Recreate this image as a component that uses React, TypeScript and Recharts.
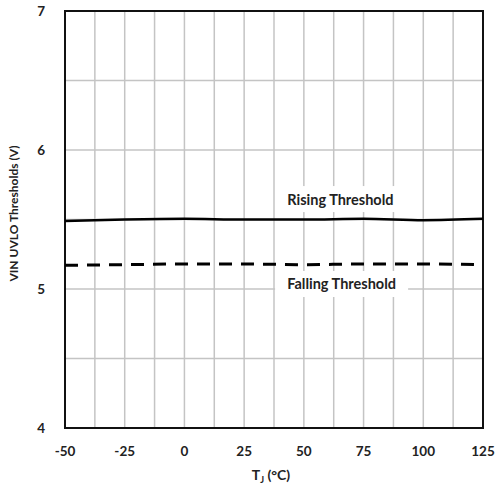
import React from "react";
import { LineChart, Line, XAxis, YAxis, CartesianGrid, ReferenceArea, ReferenceDot, Label } from "recharts";

const temps = [-50, -25, 0, 25, 50, 75, 100, 125];
const rising = [5.49, 5.5, 5.505, 5.5, 5.5, 5.505, 5.495, 5.505];
const falling = [5.17, 5.175, 5.18, 5.18, 5.175, 5.18, 5.18, 5.175];
const xTicks = [-50, -25, 0, 25, 50, 75, 100, 125];
const yTicks = [4, 5, 6, 7];
const xGrid = [-50, -37.5, -25, -12.5, 0, 12.5, 25, 37.5, 50, 62.5, 75, 87.5, 100, 112.5, 125];
const yGrid = [4, 4.5, 5, 5.5, 6, 6.5, 7];
const seriesLabels = ["Rising Threshold", "Falling Threshold"];
const yTitle = "VIN UVLO Thresholds (V)";

const data = temps.map((t, i) => ({ t, rising: rising[i], falling: falling[i] }));

const FONT = "Lato, 'Open Sans', sans-serif";

const makeTag = (text: string, w: number) => (props: any) => {
  const { cx, cy } = props;
  return (
    <g>
      <rect x={cx - w / 2} y={cy - 13} width={w} height={26} fill="#fff" />
      <text x={cx} y={cy} textAnchor="middle" dominantBaseline="central" fontFamily={FONT} fontWeight={700} fontSize={14.5} fill="#222">
        {text}
      </text>
    </g>
  );
};

export default function App() {
  return (
    <div style={{ position: "absolute", left: 0, top: 0, width: 496, height: 504, background: "#fff" }}>
      <LineChart width={496} height={504} data={data} margin={{ top: 11, right: 13, bottom: 6, left: 0 }}>
        <CartesianGrid stroke="#c4c4c4" strokeWidth={1.5} horizontalValues={yGrid} verticalValues={xGrid} />
        <XAxis
          dataKey="t"
          type="number"
          domain={[-50, 125]}
          ticks={xTicks}
          interval={0}
          height={70}
          axisLine={false}
          tickLine={false}
          tick={{ fill: "#222", fontFamily: FONT, fontWeight: 700, fontSize: 13.5 }}
          tickMargin={12}
        >
          <Label
            content={(p: any) => {
              const vb = p.viewBox;
              const cx = vb.x + vb.width / 2;
              return (
                <text x={cx - 3} y={vb.y + 52} textAnchor="middle" fontFamily={FONT} fontWeight={700} fontSize={14} fill="#222">
                  T<tspan fontSize={9} dy={3}>J</tspan>
                  <tspan dy={-3}> (°C)</tspan>
                </text>
              );
            }}
          />
        </XAxis>
        <YAxis
          type="number"
          domain={[4, 7]}
          ticks={yTicks}
          interval={0}
          width={65}
          axisLine={false}
          tickLine={false}
          tick={{ fill: "#222", fontFamily: FONT, fontWeight: 700, fontSize: 13.5 }}
          tickMargin={14}
        >
          <Label
            content={(p: any) => {
              const vb = p.viewBox;
              const cy = vb.y + vb.height / 2 - 6;
              const x = 18;
              return (
                <text x={x} y={cy} transform={`rotate(-90 ${x} ${cy})`} textAnchor="middle" fontFamily={FONT} fontWeight={700} fontSize={12} fill="#222">
                  {yTitle}
                </text>
              );
            }}
          />
        </YAxis>
        <ReferenceArea x1={-50} x2={125} y1={4} y2={7} fill="none" stroke="#111" strokeWidth={2} ifOverflow="visible" />
        <ReferenceDot x={65.3} y={5.647} r={0} shape={makeTag(seriesLabels[0], 122)} ifOverflow="visible" />
        <ReferenceDot x={65.8} y={5.036} r={0} shape={makeTag(seriesLabels[1], 133)} ifOverflow="visible" />
        <Line dataKey="rising" type="monotone" stroke="#000" strokeWidth={2.5} dot={false} isAnimationActive={false} />
        <Line dataKey="falling" type="monotone" stroke="#000" strokeWidth={3} strokeDasharray="13 9" dot={false} isAnimationActive={false} />
      </LineChart>
    </div>
  );
}
